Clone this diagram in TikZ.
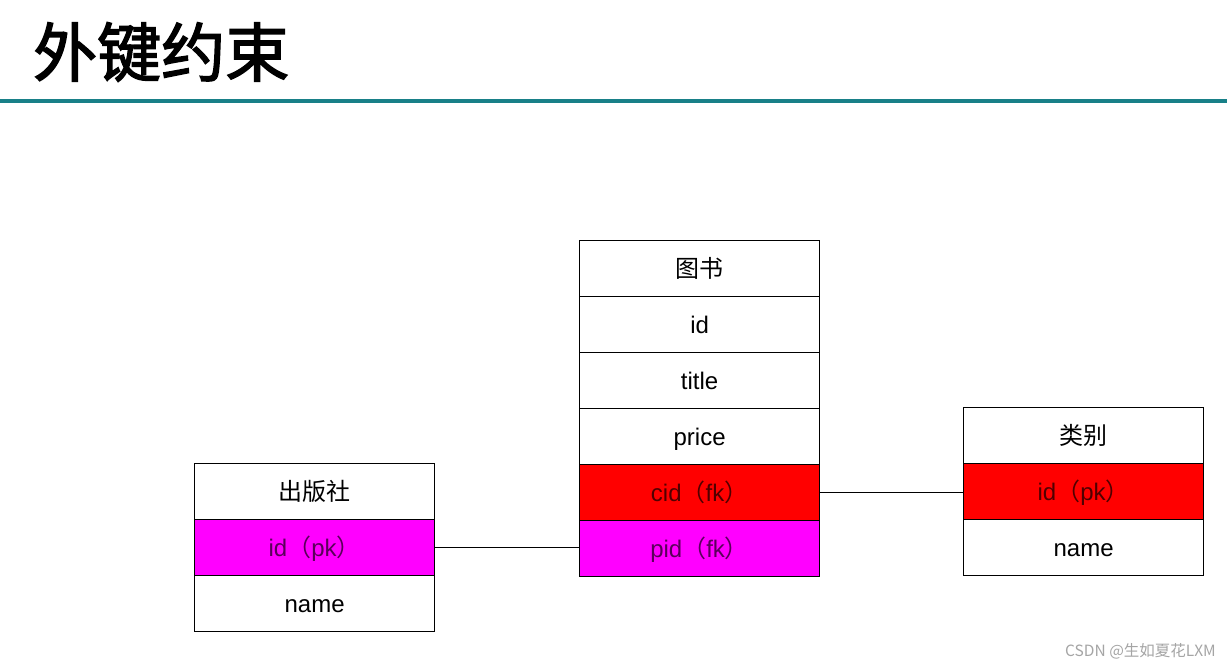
\documentclass[tikz,border=0pt]{standalone}
\usepackage{fontspec}
\setmainfont{Liberation Sans}
\newfontfamily\cjk{Noto Sans CJK SC}
\newfontfamily\cjktitle[FakeBold=2.2]{Noto Sans CJK SC}
\definecolor{tealline}{RGB}{24,128,136}
\definecolor{pkred}{RGB}{255,0,0}
\definecolor{pkmag}{RGB}{255,0,255}
\definecolor{redtxt}{RGB}{80,0,0}
\definecolor{magtxt}{RGB}{90,0,90}
\definecolor{wm}{RGB}{165,165,165}
\begin{document}
\begin{tikzpicture}[x=1pt,y=-1pt,
  row/.style={draw=black, line width=1.2pt, minimum width=240pt, minimum height=56pt,
    anchor=north west, inner sep=0pt, text height=20pt, text depth=2pt,
    font=\fontsize{24}{26}\selectfont},
  redrow/.style={row, fill=pkred, text=redtxt},
  magrow/.style={row, fill=pkmag, text=magtxt},
  link/.style={draw=black, line width=1.2pt}]
\useasboundingbox (0,0) rectangle (1227,666);
\fill[white] (0,0) rectangle (1227,666);
% title
\node[anchor=west, inner sep=0pt, font=\cjktitle\fontsize{64}{64}\selectfont] (title) at (33,52) {外键约束};
\draw[tealline, line width=4pt] (0,101.5) -- (1227,101.5);
% book table
\node[row] (b1) at (579,240) {\cjk 图书};
\node[row] (b2) at (579,296) {id};
\node[row] (b3) at (579,352) {title};
\node[row] (b4) at (579,408) {price};
\node[redrow] (b5) at (579,464) {cid{\cjk （}fk{\cjk ）}};
\node[magrow] (b6) at (579,520) {pid{\cjk （}fk{\cjk ）}};
% publisher table
\node[row] (p1) at (194,463) {\cjk 出版社};
\node[magrow] (p2) at (194,519) {id{\cjk （}pk{\cjk ）}};
\node[row] (p3) at (194,575) {name};
% category table
\node[row] (c1) at (963,407) {\cjk 类别};
\node[redrow] (c2) at (963,463) {id{\cjk （}pk{\cjk ）}};
\node[row] (c3) at (963,519) {name};
% links
\draw[link] (p2.east) -- (p2.east -| b6.west);
\draw[link] (b5.east) -- (b5.east -| c2.west);
% watermark
\node[anchor=east, inner sep=0pt, text=wm, font=\cjk\fontsize{15.5}{15.5}\selectfont] (wmark) at (1216,651) {CSDN @生如夏花LXM};
\end{tikzpicture}
\end{document}
